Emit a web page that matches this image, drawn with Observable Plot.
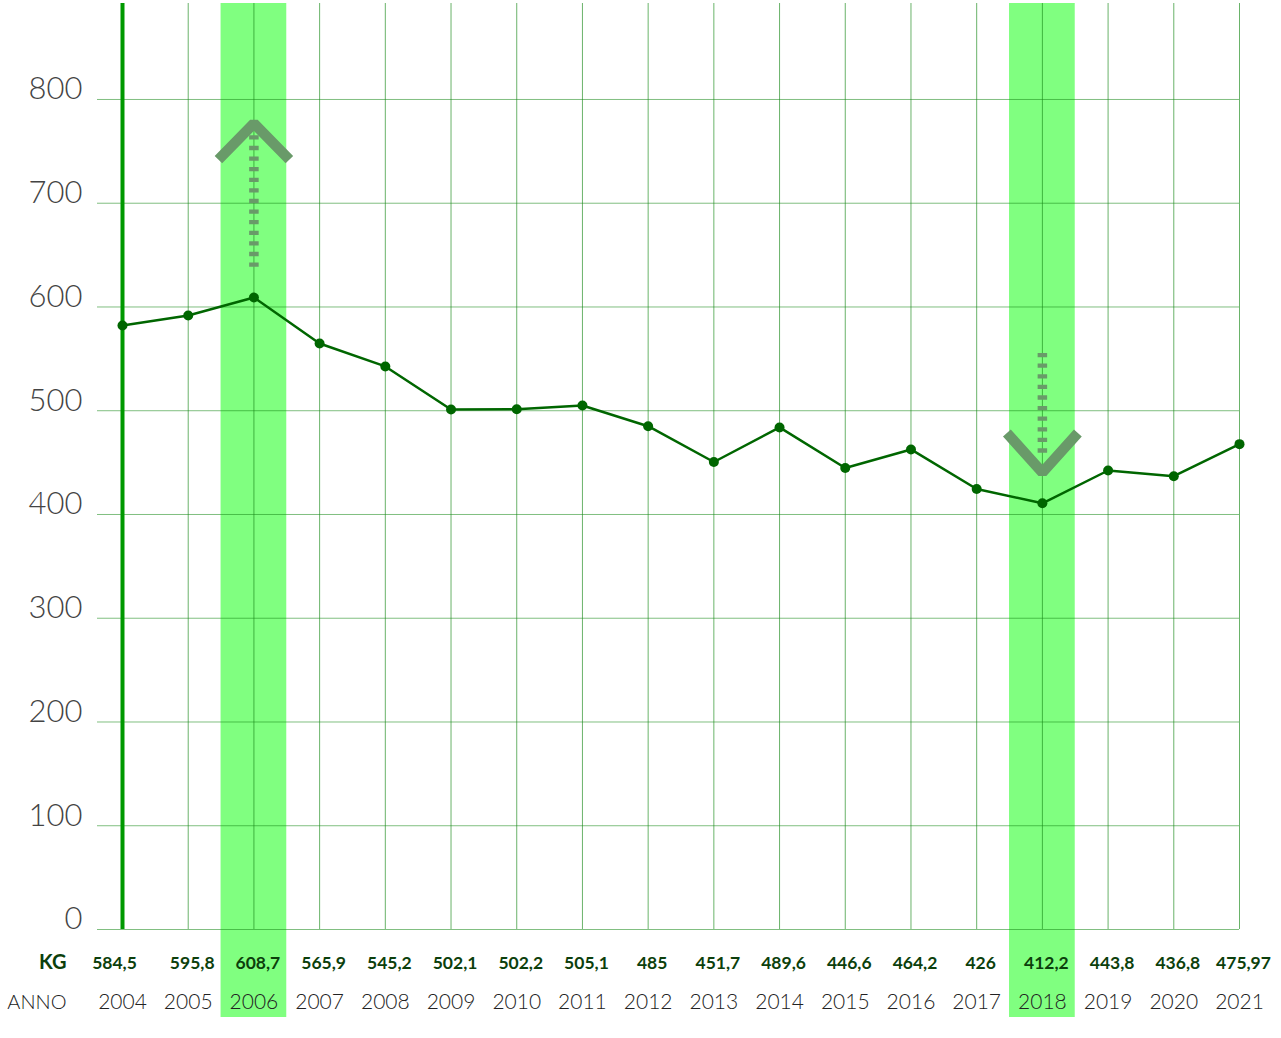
<!DOCTYPE html>
<html>
<head>
<meta charset="utf-8">
<script src="https://cdn.jsdelivr.net/npm/d3@7"></script>
<script src="https://cdn.jsdelivr.net/npm/@observablehq/plot@0.6"></script>
<style>
  html, body { margin: 0; padding: 0; background: #fff; }
  #chart svg { display: block; }
</style>
</head>
<body>
<div id="chart"></div>
<script>
// ---- data ----
const years = [2004, 2005, 2006, 2007, 2008, 2009, 2010, 2011, 2012, 2013, 2014, 2015, 2016, 2017, 2018, 2019, 2020, 2021];
// values printed in the KG row
const kgLabels = [584.5, 595.8, 608.7, 565.9, 545.2, 502.1, 502.2, 505.1, 485, 451.7, 489.6, 446.6, 464.2, 426, 412.2, 443.8, 436.8, 475.97];
// point heights
const kgPlotted = [582.2, 591.8, 609.2, 564.8, 542.7, 501.2, 501.4, 505.1, 485.1, 450.6, 483.9, 444.8, 462.7, 424.6, 410.8, 442.4, 436.9, 467.8];
const yTicks = [0, 100, 200, 300, 400, 500, 600, 700, 800];
const highlightYears = [2006, 2018];
// annotation arrows: dotted shaft from/to, chevron tip and arm ends (in KG)
const arrowYears = [2006, 2018];
const arrowShaftFrom = [765.5, 555.7];
const arrowShaftTo = [636, 459.6];
const arrowTip = [777, 440.5];
const arrowBase = [742, 478.5];
const chevronHalf = 0.54;
const yMax = 892.5;

const rows = years.map((y, i) => ({year: y, plotted: kgPlotted[i], label: String(kgLabels[i]).replace(".", ",")}));
const shafts = arrowYears.map((y, i) => ({year: y, from: arrowShaftFrom[i], to: arrowShaftTo[i]}));
const chevrons = arrowYears.flatMap((y, i) => [
  {id: i, x: y - chevronHalf, v: arrowBase[i]},
  {id: i, x: y, v: arrowTip[i]},
  {id: i, x: y + chevronHalf, v: arrowBase[i]}
]);

const lineColor = "#006600";
const arrowColor = "#699a69";
const kgColor = "#0c3f0c";

const chart = Plot.plot({
  width: 1281,
  height: 1038,
  marginLeft: 122,
  marginRight: 42,
  marginTop: 3,
  marginBottom: 109,
  x: {domain: [years[0], years[years.length - 1]], axis: null},
  y: {domain: [0, yMax], axis: null},
  style: {background: "white", fontFamily: "Lato, 'Open Sans', sans-serif"},
  marks: [
    // highlighted years
    Plot.rect(highlightYears, {x1: d => d - 0.5, x2: d => d + 0.5, fill: "#80ff80", insetBottom: -88}),
    // vertical grid
    Plot.ruleX(years, {stroke: "#1a8a1a", strokeOpacity: 0.65, strokeWidth: 1}),
    // horizontal grid
    Plot.ruleY(yTicks, {x1: years[0], x2: years[years.length - 1], insetLeft: -25, stroke: "#1a8a1a", strokeOpacity: 0.55, strokeWidth: 1}),
    // left axis line
    Plot.ruleX([years[0]], {stroke: "#009900", strokeWidth: 4}),
    // y tick labels
    Plot.text(yTicks, {x: () => years[0], y: d => d, text: d => String(d), dx: -40, dy: -10, textAnchor: "end",
      fontSize: 31, fontWeight: 300, fill: "#444"}),
    // arrows
    Plot.link(shafts, {x1: "year", x2: "year", y1: "from", y2: "to", stroke: arrowColor, strokeWidth: 9.5,
      strokeDasharray: "4.3,6.3", strokeLinecap: "butt"}),
    Plot.line(chevrons, {x: "x", y: "v", z: "id", stroke: arrowColor, strokeWidth: 10.5,
      strokeLinejoin: "miter", strokeLinecap: "butt", curve: "linear"}),
    // data line
    Plot.line(rows, {x: "year", y: "plotted", stroke: lineColor, strokeWidth: 2.5}),
    Plot.dot(rows, {x: "year", y: "plotted", r: 5, fill: lineColor, stroke: "none"}),
    // KG row
    Plot.text(rows.slice(0, 1), {x: "year", text: "label", frameAnchor: "bottom", dy: 39, dx: -8,
      fontSize: 17.5, fontWeight: "bold", fill: kgColor}),
    Plot.text(rows.slice(1), {x: "year", text: "label", frameAnchor: "bottom", dy: 39, dx: 4,
      fontSize: 17.5, fontWeight: "bold", fill: kgColor}),
    Plot.text(["KG"], {x: () => years[0], text: d => d, frameAnchor: "bottom", dy: 39, dx: -56, textAnchor: "end",
      fontSize: 20, fontWeight: "bold", fill: kgColor}),
    // ANNO row
    Plot.text(rows, {x: "year", text: d => String(d.year), frameAnchor: "bottom", dy: 79,
      fontSize: 21, fontWeight: 300, fill: "#222"}),
    Plot.text(["ANNO"], {x: () => years[0], text: d => d, frameAnchor: "bottom", dy: 79, dx: -56, textAnchor: "end",
      fontSize: 20, fontWeight: 300, fill: "#222"})
  ]
});
document.getElementById("chart").appendChild(chart);
</script>
</body>
</html>
